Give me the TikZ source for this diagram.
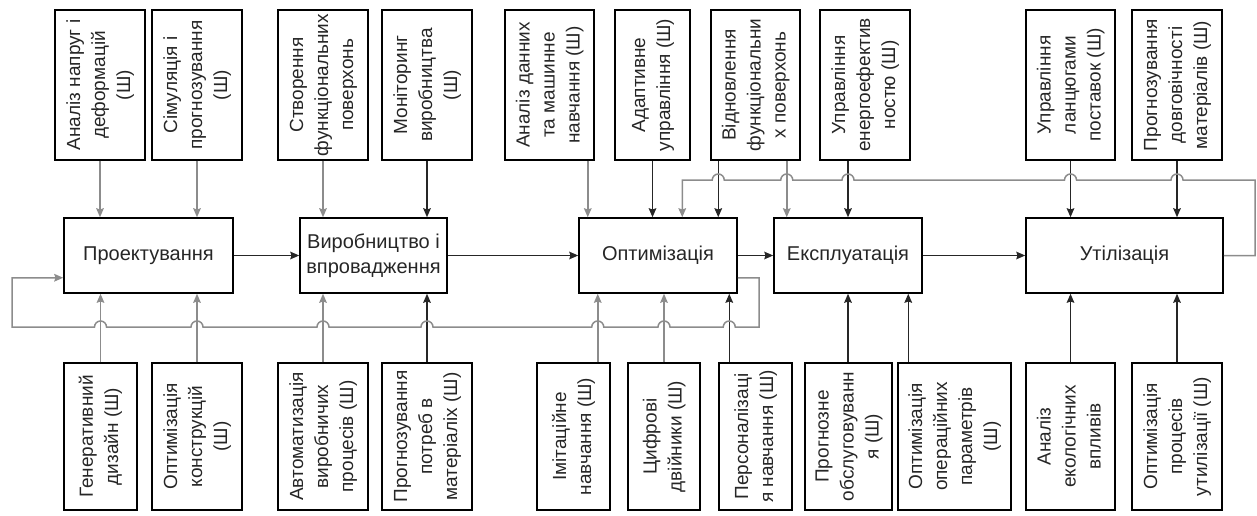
\documentclass[tikz,border=0pt]{standalone}
\usepackage{fontspec}
\setmainfont{Liberation Sans}
\usepackage{graphicx}
\usetikzlibrary{arrows.meta, calc}
\tikzset{>={Stealth[length=4.5pt, width=3.8pt, inset=0.6pt]}}
\newcommand{\vtext}[1]{\rotatebox{90}{\begin{tabular}{@{}c@{}}#1\end{tabular}}}

\begin{document}
\begin{tikzpicture}[x=0.5pt, y=0.5pt, line width=0.75pt,
    stage/.style={draw, inner sep=1pt, minimum height=37.5pt, align=center,
        font=\fontsize{10}{12.5}\selectfont, text=black!85},
    side/.style={draw, inner sep=1pt, font=\fontsize{9.5}{12.5}\selectfont, text=black!85},
    lnk/.style={->, black!85},
    lite/.style={->, black!45}]
\useasboundingbox (0,0) rectangle (1257,515);

% main stages
\node[stage, minimum width=84.5pt] (M1) at (148.5,259.5) {Проектування};
\node[stage, minimum width=73.5pt] (M2) at (373.5,259.5) {Виробництво і\\впровадження};
\node[stage, minimum width=79pt] (M3) at (658,259.5) {Оптимізація};
\node[stage, minimum width=74pt] (M4) at (848,259.5) {Експлуатація};
\node[stage, minimum width=98.5pt] (M5) at (1124.5,259.5) {Утілізація};

% top boxes
\node[side, minimum width=45pt, minimum height=75pt] (T1) at (100,430) {\vtext{Аналіз напруг і\\деформацій\\(Ш)}};
\node[side, minimum width=45pt, minimum height=75pt] (T2) at (197,430) {\vtext{Сімуляція і\\прогнозування\\(Ш)}};
\node[side, minimum width=45pt, minimum height=75pt] (T3) at (323,430) {\vtext{Створення\\функціональних\\поверхонь}};
\node[side, minimum width=45pt, minimum height=75pt] (T4) at (427,430) {\vtext{Моніторинг\\виробництва\\(Ш)}};
\node[side, minimum width=44.5pt, minimum height=75pt] (T5) at (549.5,430) {\vtext{Аналіз данних\\та машинне\\навчання (Ш)}};
\node[side, minimum width=37.5pt, minimum height=75pt] (T6) at (652.5,430) {\vtext{Адаптивне\\управління (Ш)}};
\node[side, minimum width=44.5pt, minimum height=75pt] (T7) at (755.5,430) {\vtext{Відновлення\\функціональни\\х поверхонь}};
\node[side, minimum width=45pt, minimum height=75pt] (T8) at (865,430) {\vtext{Управління\\енергоефектив\\ностю (Ш)}};
\node[side, minimum width=44.5pt, minimum height=75pt] (T9) at (1070.5,430) {\vtext{Управління\\ланцюгами\\поставок (Ш)}};
\node[side, minimum width=45pt, minimum height=75pt] (T10) at (1177,430) {\vtext{Прогнозування\\довговічності\\матеріалів (Ш)}};

% bottom boxes
\node[side, minimum width=36.5pt, minimum height=73.5pt] (B1) at (100.5,78.5) {\vtext{Генеративний\\дизайн (Ш)}};
\node[side, minimum width=45pt, minimum height=73.5pt] (B2) at (197,78.5) {\vtext{Оптимізація\\конструкцій\\(Ш)}};
\node[side, minimum width=45pt, minimum height=73.5pt] (B3) at (323,78.5) {\vtext{Автоматизація\\виробничих\\процесів (Ш)}};
\node[side, minimum width=45pt, minimum height=73.5pt] (B4) at (427,78.5) {\vtext{Прогнозування\\потреб в\\матеріаліх (Ш)}};
\node[side, minimum width=36.5pt, minimum height=73.5pt] (B5) at (573.5,78.5) {\vtext{Імітаційне\\навчання (Ш)}};
\node[side, minimum width=36pt, minimum height=73.5pt] (B6) at (664,78.5) {\vtext{Цифрові\\двійники (Ш)}};
\node[side, minimum width=36.5pt, minimum height=73.5pt] (B7) at (755.5,78.5) {\vtext{Персоналізаці\\я навчання (Ш)}};
\node[side, minimum width=43.5pt, minimum height=73.5pt] (B8) at (848.5,78.5) {\vtext{Прогнозне\\обслуговуванн\\я (Ш)}};
\node[side, minimum width=56.5pt, minimum height=73.5pt] (B9) at (954.5,78.5) {\vtext{Оптимізація\\операційних\\параметрів\\(Ш)}};
\node[side, minimum width=44.5pt, minimum height=73.5pt] (B10) at (1070.5,78.5) {\vtext{Аналіз\\екологічних\\впливів}};
\node[side, minimum width=45pt, minimum height=73.5pt] (B11) at (1177,78.5) {\vtext{Оптимізація\\процесів\\утилізації (Ш)}};

% off-centre ends
\coordinate (t5) at ([xshift=-3.5pt]T5.south east);
\coordinate (t7a) at ([xshift=4pt]T7.south west);
\coordinate (t7b) at ([xshift=-7pt]T7.south east);
\coordinate (b5) at ([xshift=-6.5pt]B5.north east);
\coordinate (b7) at ([xshift=5.5pt]B7.north west);
\coordinate (b9) at ([xshift=5.5pt]B9.north west);

% main flow
\draw[lnk] (M1) -- (M2);
\draw[lnk] (M2) -- (M3);
\draw[lnk] (M3) -- (M4);
\draw[lnk] (M4) -- (M5);

% from the top
\draw[lite] (T1.south) -- (T1.south |- M1.north);
\draw[lite] (T2.south) -- (T2.south |- M1.north);
\draw[lite] (T3.south) -- (T3.south |- M2.north);
\draw[lnk] (T4.south) -- (T4.south |- M2.north);
\draw[lite] (t5) -- (t5 |- M3.north);
\draw[lnk] (T6.south) -- (T6.south |- M3.north);
\draw[lnk] (t7a) -- (t7a |- M3.north);
\draw[lite] (t7b) -- (t7b |- M4.north);
\draw[lnk] (T8.south -| M4.north) -- (M4.north);
\draw[lnk] (T9.south) -- (T9.south |- M5.north);
\draw[lnk] (T10.south) -- (T10.south |- M5.north);

% from below
\draw[lite] (B1.north) -- (B1.north |- M1.south);
\draw[lite] (B2.north) -- (B2.north |- M1.south);
\draw[lite] (B3.north) -- (B3.north |- M2.south);
\draw[lnk] (B4.north) -- (B4.north |- M2.south);
\draw[lite] (b5) -- (b5 |- M3.south);
\draw[lite] (B6.north) -- (B6.north |- M3.south);
\draw[lnk] (b7) -- (b7 |- M3.south);
\draw[lnk] (B8.north -| M4.south) -- (M4.south);
\draw[lnk] (b9) -- (b9 |- M4.south);
\draw[lnk] (B10.north) -- (B10.north |- M5.south);
\draw[lnk] (B11.north) -- (B11.north |- M5.south);

% feedback loops
\coordinate (tr) at (1255,335);
\coordinate (f3) at ([xshift=52pt]M3.north west);
\draw[lite] (M5.east) -- (M5.east -| tr) -- (tr)
    \foreach \c in {T10.south, T9.south, M4.north, t7b, t7a} {
        -- ($(\c |- tr)+(6,0)$) arc[start angle=0, end angle=180, radius=3pt] }
    -- (f3 |- tr) -- (f3);

\coordinate (b3) at ([yshift=8pt]M3.south east);
\coordinate (br) at (759,188);
\coordinate (bl) at (12,188);
\coordinate (b1) at ([yshift=8pt]M1.south west);
\draw[lite] (b3) -| (br)
    \foreach \c in {b7, B6.north, b5, B4.north, B3.north, B2.north, B1.north} {
        -- ($(\c |- br)+(6,0)$) arc[start angle=0, end angle=180, radius=3pt] }
    -- (bl) |- (b1);
\end{tikzpicture}
\end{document}
